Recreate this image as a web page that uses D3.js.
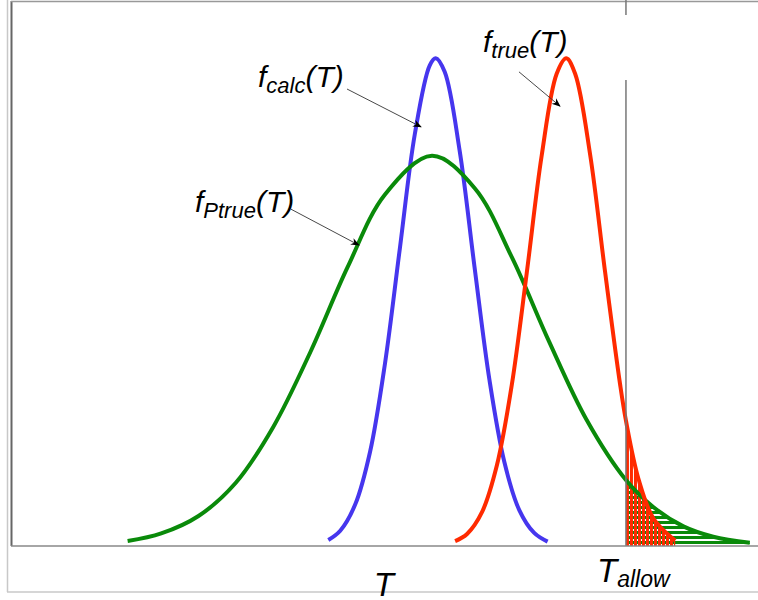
<!DOCTYPE html>
<html>
<head>
<meta charset="utf-8">
<script src="https://cdn.jsdelivr.net/npm/d3@7"></script>
<style>
  body { margin: 0; background: #fff; }
  text { font-family: "Liberation Sans", Arial, sans-serif; font-style: italic; fill: #000; }
</style>
</head>
<body>
<div id="chart"></div>
<script>
// values (T in arbitrary units, f = density)
const calcT = [42.4, 44, 46, 48, 50, 52, 54, 56, 56.8, 58, 60, 62, 64, 66, 68, 70, 71.8];
const calcF = [0.011, 0.028, 0.076, 0.173, 0.335, 0.547, 0.756, 0.882, 0.895, 0.870, 0.726, 0.512, 0.305, 0.154, 0.066, 0.024, 0.008];

const trueT = [59.4, 61, 63, 65, 67, 69, 71, 73, 74.3, 75.5, 77.5, 79.5, 81.5, 82.3, 84, 86, 88.9];
const trueF = [0.009, 0.022, 0.062, 0.148, 0.296, 0.501, 0.716, 0.866, 0.895, 0.866, 0.718, 0.503, 0.298, 0.230, 0.122, 0.050, 0.010];

const ptrueT = [15.5, 20, 25, 30, 35, 40, 45, 50, 56.3, 62, 67, 72, 77, 82.3, 86, 90, 94, 98.9];
const ptrueF = [0.009, 0.023, 0.055, 0.116, 0.218, 0.356, 0.512, 0.645, 0.716, 0.657, 0.530, 0.375, 0.232, 0.121, 0.071, 0.036, 0.017, 0.006];

const tAllow = 82.3;

// labels: [main, subscript, labelT, labelF, arrowFromT, arrowFromF, arrowToT, arrowToF]
const labelNames = ["f", "f", "f"];
const labelSubs = ["calc", "Ptrue", "true"];
const labelPos = [[32.98, 0.842], [24.53, 0.613], [63.14, 0.906]];
const arrowFrom = [[44.91, 0.8385], [37.40, 0.618], [67.96, 0.870]];
const arrowTo = [[54.83, 0.769], [46.51, 0.552], [73.46, 0.807]];

const width = 758, height = 600;
const axisY = 546;

const x = d3.scaleLinear().domain([0, 100]).range([12, 758]);
const y = d3.scaleLinear().domain([0, 1]).range([axisY, 1]);

const svg = d3.select("#chart").append("svg")
  .attr("width", width)
  .attr("height", height);

svg.append("rect").attr("width", width).attr("height", height).attr("fill", "#fff");

const defs = svg.append("defs");
// horizontal green hatch
const pg = defs.append("pattern")
  .attr("id", "hatchGreen")
  .attr("patternUnits", "userSpaceOnUse")
  .attr("width", 6).attr("height", 5)
  .attr("y", axisY);
pg.append("rect").attr("width", 6).attr("height", 5).attr("fill", "#fff");
pg.append("rect").attr("width", 6).attr("height", 3).attr("fill", "#0a8a0a");
// vertical red hatch
const pr = defs.append("pattern")
  .attr("id", "hatchRed")
  .attr("patternUnits", "userSpaceOnUse")
  .attr("width", 4).attr("height", 6)
  .attr("x", x(tAllow));
pr.append("rect").attr("width", 3).attr("height", 6).attr("fill", "#ff2a00");

defs.append("marker")
  .attr("id", "arrow")
  .attr("viewBox", "0 0 10 10")
  .attr("refX", 9).attr("refY", 5)
  .attr("markerWidth", 9).attr("markerHeight", 9)
  .attr("markerUnits", "userSpaceOnUse")
  .attr("orient", "auto")
  .append("path")
  .attr("d", "M0,1 L10,5 L0,9 L3,5 Z")
  .attr("fill", "#000");

// frames
svg.append("line").attr("x1", 7.5).attr("x2", 7.5).attr("y1", 0).attr("y2", 592)
  .attr("stroke", "#c8c8c8").attr("stroke-width", 1.5);
svg.append("line").attr("x1", 7).attr("x2", width).attr("y1", 592).attr("y2", 592)
  .attr("stroke", "#c8c8c8").attr("stroke-width", 1.5);
svg.append("line").attr("x1", 11.5).attr("x2", 11.5).attr("y1", 1).attr("y2", axisY)
  .attr("stroke", "#666").attr("stroke-width", 2);
svg.append("line").attr("x1", 11).attr("x2", width).attr("y1", 1.5).attr("y2", 1.5)
  .attr("stroke", "#999").attr("stroke-width", 1.5);

const zip = (ts, fs) => ts.map((t, i) => ({t: t, f: fs[i]}));
const calc = zip(calcT, calcF);
const tru = zip(trueT, trueF);
const ptrue = zip(ptrueT, ptrueF);

const line = d3.line().x(d => x(d.t)).y(d => y(d.f)).curve(d3.curveCatmullRom);
const area = d3.area().x(d => x(d.t)).y0(axisY).y1(d => y(d.f)).curve(d3.curveCatmullRom);

// hatched tails beyond T_allow
svg.append("path").datum(ptrue.filter(d => d.t >= tAllow))
  .attr("d", area).attr("fill", "url(#hatchGreen)");
svg.append("path").datum(tru.filter(d => d.t >= tAllow))
  .attr("d", area).attr("fill", "url(#hatchRed)");

// curves
svg.append("path").datum(calc).attr("d", line)
  .attr("fill", "none").attr("stroke", "#4636ee").attr("stroke-width", 4);
svg.append("path").datum(ptrue).attr("d", line)
  .attr("fill", "none").attr("stroke", "#0a8a0a").attr("stroke-width", 4);
svg.append("path").datum(tru).attr("d", line)
  .attr("fill", "none").attr("stroke", "#ff2a00").attr("stroke-width", 4);

// T allow line
svg.append("line").attr("x1", x(tAllow)).attr("x2", x(tAllow)).attr("y1", 0).attr("y2", 15)
  .attr("stroke", "#777").attr("stroke-width", 1.5);
svg.append("line").attr("x1", x(tAllow)).attr("x2", x(tAllow)).attr("y1", 80).attr("y2", axisY)
  .attr("stroke", "#777").attr("stroke-width", 1.5);

// x axis baseline
svg.append("line").attr("x1", 11).attr("x2", width).attr("y1", axisY).attr("y2", axisY)
  .attr("stroke", "#888").attr("stroke-width", 1.5);

// labels + arrows
labelNames.forEach((name, i) => {
  svg.append("line")
    .attr("x1", x(arrowFrom[i][0])).attr("y1", y(arrowFrom[i][1]))
    .attr("x2", x(arrowTo[i][0])).attr("y2", y(arrowTo[i][1]))
    .attr("stroke", "#333").attr("stroke-width", 0.9)
    .attr("marker-end", "url(#arrow)");
  const t = svg.append("text")
    .attr("x", x(labelPos[i][0])).attr("y", y(labelPos[i][1]))
    .style("font-size", "30px");
  t.append("tspan").text(name);
  t.append("tspan").attr("dy", 6).style("font-size", "22px").text(labelSubs[i]);
  t.append("tspan").attr("dy", -6).text("(T)");
});

// axis labels
svg.append("text").attr("x", x(48.5)).attr("y", axisY + 50)
  .style("font-size", "33px").text("T");
const ta = svg.append("text").attr("x", x(tAllow) - 29).attr("y", axisY + 36)
  .style("font-size", "33px");
ta.append("tspan").text("T");
ta.append("tspan").attr("dy", 5).style("font-size", "23px").text("allow");
</script>
</body>
</html>
